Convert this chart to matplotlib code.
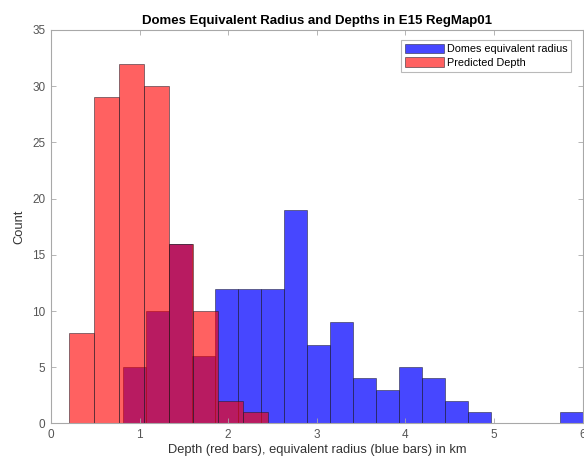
import numpy as np
import matplotlib.pyplot as plt

plt.rcParams['font.family'] = ['Liberation Sans', 'DejaVu Sans']

# blue bars: domes equivalent radius (km)
radius_start = 0.81
radius_width = 0.26
radius_counts = [5, 10, 16, 6, 12, 12, 12, 19, 7, 9, 4, 3, 5, 4, 2, 1, 0, 0, 0, 1]

# red bars: predicted depth (km)
depth_start = 0.207
depth_width = 0.28
depth_counts = [8, 29, 32, 30, 16, 10, 2, 1]

x_ticks = [0, 1, 2, 3, 4, 5, 6]
y_ticks = [0, 5, 10, 15, 20, 25, 30, 35]

radius_edges = radius_start + radius_width * np.arange(len(radius_counts) + 1)
depth_edges = depth_start + depth_width * np.arange(len(depth_counts) + 1)

fig = plt.figure(figsize=(5.84, 4.58), dpi=100)
ax = fig.add_axes([0.0873, 0.0755, 0.9102, 0.859])

edge = (0.1, 0.1, 0.15, 0.6)
ax.hist(radius_edges[:-1], bins=radius_edges, weights=radius_counts,
        facecolor=(0, 0, 1, 0.72), edgecolor=edge, linewidth=0.6,
        label='Domes equivalent radius')
ax.hist(depth_edges[:-1], bins=depth_edges, weights=depth_counts,
        facecolor=(1, 0, 0, 0.62), edgecolor=edge, linewidth=0.6,
        label='Predicted Depth')

ax.set_xlim(0, 6)
ax.set_ylim(0, 35)
ax.set_xticks(x_ticks)
ax.set_yticks(y_ticks)

grey = '#555555'
for s in ax.spines.values():
    s.set_color('#a8a8a8')
    s.set_linewidth(0.8)
ax.tick_params(direction='in', top=True, right=True, length=3.5, width=0.6,
               color='#a8a8a8', labelcolor=grey, labelsize=8.5, pad=4)

ax.set_title('Domes Equivalent Radius and Depths in E15 RegMap01',
             fontsize=9.5, fontweight='bold', pad=4)
ax.set_xlabel('Depth (red bars), equivalent radius (blue bars) in km',
              fontsize=9.3, color='#333333', labelpad=2)
ax.set_ylabel('Count', fontsize=9.3, color='#333333', labelpad=5)

leg = ax.legend(loc='upper right', fontsize=7.8, frameon=True, fancybox=False,
                edgecolor='#a8a8a8', handlelength=3.6, handleheight=1.0,
                handletextpad=0.3, borderpad=0.35, labelspacing=0.3,
                borderaxespad=0, bbox_to_anchor=(0.979, 0.975))
leg.get_frame().set_linewidth(0.8)

fig.savefig('out.png', dpi=100, facecolor='white')
